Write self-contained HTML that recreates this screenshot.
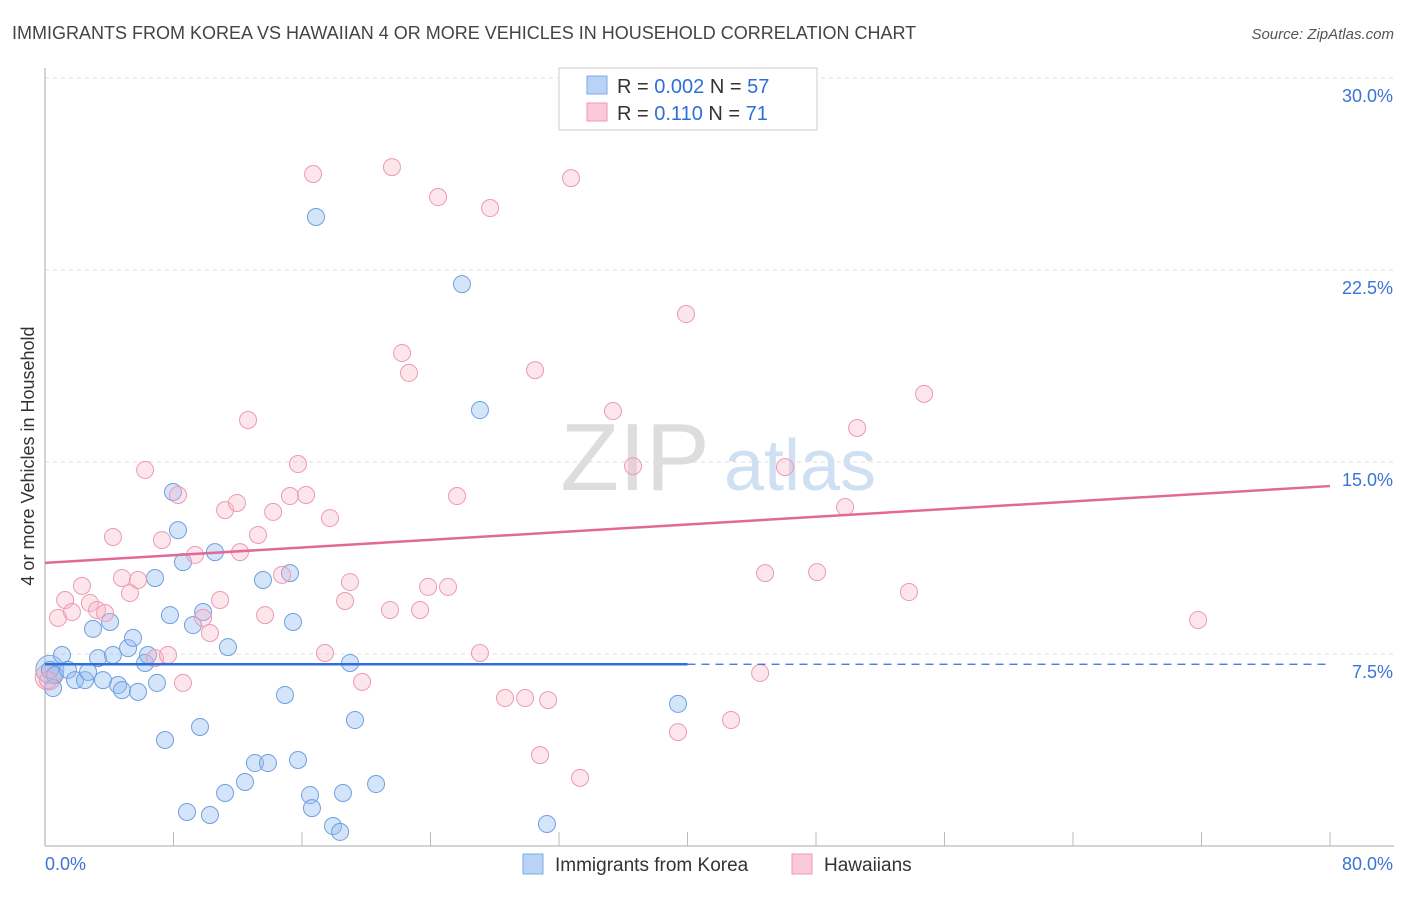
<!DOCTYPE html>
<html><head><meta charset="utf-8"><style>
body{margin:0;background:#fff;font-family:"Liberation Sans",sans-serif;}
svg text{font-family:"Liberation Sans",sans-serif;}
</style></head><body>
<svg id="chart" width="1406" height="892" xmlns="http://www.w3.org/2000/svg">
<text x="12" y="39" font-size="18" fill="#444">IMMIGRANTS FROM KOREA VS HAWAIIAN 4 OR MORE VEHICLES IN HOUSEHOLD CORRELATION CHART</text>
<text x="1394" y="39" font-size="15" fill="#555" text-anchor="end" font-style="italic">Source: ZipAtlas.com</text>
<text transform="translate(34,456) rotate(-90)" font-size="18" fill="#333" text-anchor="middle">4 or more Vehicles in Household</text>
<g><text x="635" y="490" font-size="96" fill="#ddd" font-family="Liberation Serif" text-anchor="middle">ZIP</text><text x="800" y="490" font-size="72" fill="#cfe0f3" text-anchor="middle">atlas</text></g>
<g id="grid"></g><g id="axes"></g><g id="pts"></g><g id="lines"></g>
<g>
<rect x="559" y="68" width="258" height="62" fill="#fff" stroke="#ccc"/>
<rect x="587" y="76" width="20" height="18" fill="#b9d3f5" stroke="#7ea9e6"/>
<rect x="587" y="103" width="20" height="18" fill="#fbc9d8" stroke="#ef9ab5"/>
<text x="617" y="93" font-size="20" fill="#333">R = <tspan fill="#2f6fdb">0.002</tspan>   N = <tspan fill="#2f6fdb">57</tspan></text>
<text x="617" y="120" font-size="20" fill="#333">R =  <tspan fill="#2f6fdb">0.110</tspan>   N =  <tspan fill="#2f6fdb">71</tspan></text>
</g>
<g>
<rect x="523" y="854" width="20" height="20" fill="#b9d3f5" stroke="#7ea9e6"/>
<text x="555" y="871" font-size="19" fill="#333">Immigrants from Korea</text>
<rect x="792" y="854" width="20" height="20" fill="#fbc9d8" stroke="#ef9ab5"/>
<text x="824" y="871" font-size="19" fill="#333">Hawaiians</text>
</g>
</svg>
<script>
const koreaX=[0.5,0.31,0.62,1.06,1.43,1.87,2.49,2.68,2.99,3.30,3.61,4.05,4.23,4.55,4.79,5.17,5.48,5.79,6.23,6.41,6.85,6.97,7.47,7.78,7.97,8.28,8.59,8.84,9.21,9.65,9.84,10.27,10.58,11.21,11.39,12.45,13.07,13.57,13.88,14.94,15.25,15.44,15.75,16.5,16.62,16.87,17.93,18.37,18.55,18.99,19.3,20.61,25.96,27.08,31.25,39.41];
const koreaY=[6.17,6.88,6.68,7.46,6.88,6.48,6.48,6.80,8.48,7.34,6.48,8.75,7.46,6.29,6.09,7.73,8.13,6.02,7.15,7.46,10.47,6.37,4.14,9.02,13.83,12.34,11.09,1.33,8.63,4.65,9.14,1.21,11.48,2.07,7.77,2.50,3.24,10.39,3.24,5.90,10.66,8.75,3.36,1.99,1.48,24.57,0.78,0.55,2.07,7.15,4.92,2.42,21.95,17.03,0.86,5.55];
const hawX=[0.19,0.81,1.25,1.68,2.30,2.80,3.24,3.74,4.23,4.79,5.29,5.79,6.23,6.85,7.28,7.66,8.28,8.59,9.34,9.84,10.27,10.90,11.21,11.95,12.14,12.64,13.26,13.70,14.20,14.76,15.25,15.75,16.25,16.69,17.43,17.74,18.68,18.99,19.74,21.48,21.60,22.23,22.66,23.35,23.85,24.47,25.09,25.65,27.08,27.71,28.64,29.89,30.51,30.82,31.32,32.75,33.31,35.36,36.61,39.41,39.91,42.71,44.52,44.83,46.07,48.07,49.81,50.56,53.79,54.73,71.79];
const hawY=[6.48,8.91,9.61,9.14,10.16,9.49,9.22,9.10,12.07,10.47,9.88,10.39,14.69,7.34,11.95,7.46,13.71,6.37,11.37,8.91,8.32,9.61,13.12,13.40,11.48,16.64,12.15,9.02,13.05,10.59,13.67,14.92,13.71,26.25,7.54,12.81,9.57,10.31,6.41,9.22,26.52,19.26,18.48,9.22,10.12,25.35,10.12,13.67,7.54,24.92,5.78,5.78,18.59,3.55,5.70,26.09,2.66,16.99,14.84,4.45,20.78,4.92,6.76,10.66,14.80,10.70,13.24,16.33,9.92,17.66,8.83];
const yTicks=[7.5,15,22.5,30];
const koreaTrend=[7.1,7.1];
const hawTrend=[11.06,14.06];
const NS="http://www.w3.org/2000/svg";
const sx=v=>45+v/80*1285, sy=v=>846-v*25.6;
function mk(p,t,a){const e=document.createElementNS(NS,t);for(const k in a)e.setAttribute(k,a[k]);p.appendChild(e);return e;}
const grid=document.getElementById('grid'),axes=document.getElementById('axes'),pts=document.getElementById('pts'),lines=document.getElementById('lines');
yTicks.forEach(t=>{
 const l=mk(grid,'line',{x1:45,x2:1394,y1:sy(t),y2:sy(t),stroke:'#ddd','stroke-dasharray':'4 4'});
 
 
 const tx=mk(axes,'text',{x:1393,y:sy(t)+24,'font-size':18,fill:'#3a74d8','text-anchor':'end'});
 tx.textContent=t.toFixed(1)+'%';
 
 
});
mk(axes,'line',{x1:45,x2:45,y1:68,y2:846,stroke:'#aaa'});
mk(axes,'line',{x1:45,x2:1394,y1:846,y2:846,stroke:'#aaa'});
for(let i=1;i<=10;i++){const t=mk(axes,'line',{x1:sx(i*8),x2:sx(i*8),y1:832,y2:846,stroke:'#bbb'});
 
 }
const x0=mk(axes,'text',{x:45,y:870,'font-size':18,fill:'#3a74d8'});x0.textContent='0.0%';


const x1=mk(axes,'text',{x:1393,y:870,'font-size':18,fill:'#3a74d8','text-anchor':'end'});x1.textContent='80.0%';


// large origin circles
mk(pts,'circle',{cx:sx(0.3),cy:sy(6.9),r:14,fill:'rgba(150,190,240,0.4)',stroke:'#7ea9e6'});
mk(pts,'circle',{cx:sx(0.2),cy:sy(6.6),r:13,fill:'rgba(240,160,190,0.35)',stroke:'#ef9ab5'});
koreaX.forEach((v,i)=>{const c=mk(pts,'circle',{cx:sx(v),cy:sy(koreaY[i]),r:8.5,fill:'rgba(150,190,240,0.4)',stroke:'#6f9fe0','stroke-width':1});
 
 });
hawX.forEach((v,i)=>{const c=mk(pts,'circle',{cx:sx(v),cy:sy(hawY[i]),r:8.5,fill:'rgba(248,180,200,0.35)',stroke:'#ec9ab3','stroke-width':1});
 
 });
const kl=mk(lines,'line',{x1:sx(0),x2:sx(40),y1:sy(koreaTrend[0]),y2:sy(koreaTrend[0]+(koreaTrend[1]-koreaTrend[0])/2),stroke:'#2f6fdb','stroke-width':2.5});


const kd=mk(lines,'line',{x1:sx(40),x2:sx(80),y1:sy(koreaTrend[0]+(koreaTrend[1]-koreaTrend[0])/2),y2:sy(koreaTrend[1]),stroke:'#2f6fdb','stroke-width':1.2,'stroke-dasharray':'8 6'});


const hl=mk(lines,'line',{x1:sx(0),x2:sx(80),y1:sy(hawTrend[0]),y2:sy(hawTrend[1]),stroke:'#e2689a','stroke-width':2.5});


</script>
</body></html>
